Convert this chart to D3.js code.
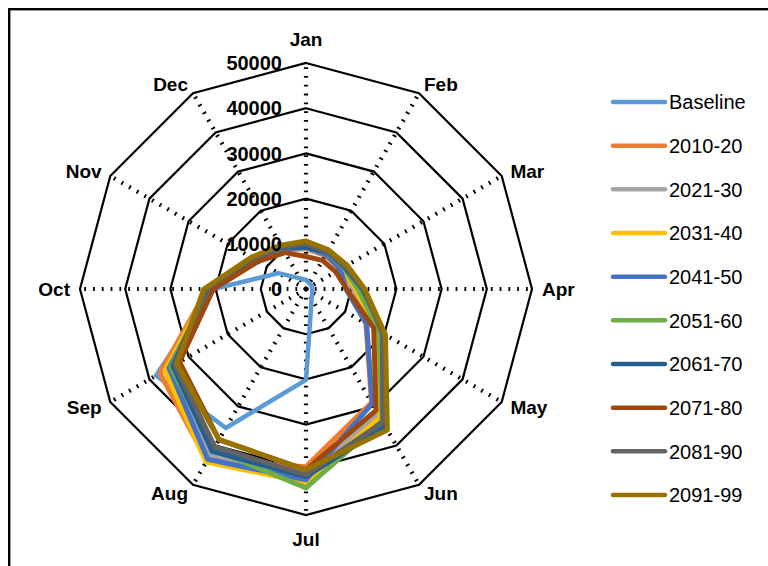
<!DOCTYPE html>
<html>
<head>
<meta charset="utf-8">
<script src="https://cdn.jsdelivr.net/npm/d3@7"></script>
<style>
  html, body { margin: 0; padding: 0; background: #fff; }
  svg { display: block; }
  text { font-family: "Liberation Sans", Arial, sans-serif; fill: #000; }
</style>
</head>
<body>
<svg id="chart" width="768" height="566"></svg>
<script>
// ---- data ----
const months = ["Jan","Feb","Mar","Apr","May","Jun","Jul","Aug","Sep","Oct","Nov","Dec"];
const seriesNames = ["Baseline","2010-20","2021-30","2031-40","2041-50","2051-60","2061-70","2071-80","2081-90","2091-99"];
const seriesColors = ["#5B9BD5","#ED7D31","#A5A5A5","#FFC000","#4472C4","#70AD47","#255E91","#9E480E","#636363","#997300"];
const tickValues = [0, 10000, 20000, 30000, 40000, 50000];

const baseline = [2000, 1500, 1400, 1400, 1600, 2500, 20100, 35500, 38300, 20500, 7000, 2700];
const s2010_20 = [8900, 8600, 8800, 9000, 15300, 29000, 39300, 43800, 37300, 21800, 13000, 10000];
const s2021_30 = [9000, 8900, 9200, 10500, 17500, 32000, 41500, 42500, 35500, 21600, 13200, 10300];
const s2031_40 = [9100, 9000, 9300, 11000, 18000, 32800, 42800, 44200, 36000, 21500, 13300, 10400];
const s2041_50 = [9200, 8800, 8800, 8800, 15500, 29300, 42200, 43500, 35000, 21000, 13000, 10100];
const s2051_60 = [9500, 9300, 9600, 11500, 18600, 33700, 44000, 41000, 34500, 21500, 13300, 10500];
const s2061_70 = [9300, 9400, 9800, 12500, 20000, 35000, 41500, 41500, 34000, 21800, 13500, 10600];
const s2071_80 = [7200, 7300, 7600, 9000, 17300, 31000, 40000, 38500, 32300, 20500, 12200, 9300];
const s2081_90 = [10000, 9500, 10000, 12800, 19500, 34000, 41100, 40300, 33500, 22000, 13700, 10800];
const s2091_99 = [10600, 10000, 10500, 13000, 20300, 36000, 40000, 38500, 33000, 22600, 14000, 11200];

const seriesValues = [baseline, s2010_20, s2021_30, s2031_40, s2041_50, s2051_60, s2061_70, s2071_80, s2081_90, s2091_99];

// ---- layout ----
const svg = d3.select("#chart");
const cx = 306, cy = 289, R = 226;
const rScale = d3.scaleLinear().domain([0, 50000]).range([0, R]);
const angle = d3.scalePoint().domain(months).range([0, 2 * Math.PI]).padding(0);
const ang = m => months.indexOf(m) * 2 * Math.PI / months.length;

// border
svg.append("rect")
  .attr("x", 9.2).attr("y", 9.2).attr("width", 820).attr("height", 620)
  .attr("fill", "none").attr("stroke", "#000").attr("stroke-width", 2.4);

const g = svg.append("g").attr("transform", `translate(${cx},${cy})`);

// spokes (dotted)
g.selectAll("line.spoke").data(months).enter().append("line")
  .attr("class", "spoke")
  .attr("x1", 0).attr("y1", 0)
  .attr("x2", m => R * Math.sin(ang(m)))
  .attr("y2", m => -R * Math.cos(ang(m)))
  .attr("stroke", "#000").attr("stroke-width", 4.2)
  .attr("stroke-dasharray", "1.8,7");

// rings
const ringLine = d3.lineRadial().angle((d, i) => i * 2 * Math.PI / months.length).radius(d => d).curve(d3.curveLinearClosed);
g.selectAll("path.ring").data(tickValues.filter(v => v > 0)).enter().append("path")
  .attr("class", "ring")
  .attr("d", v => ringLine(months.map(() => rScale(v))))
  .attr("fill", "none").attr("stroke", "#000").attr("stroke-width", 2.2);

// series
const seriesLine = d3.lineRadial()
  .angle((d, i) => i * 2 * Math.PI / months.length)
  .radius(d => rScale(d))
  .curve(d3.curveLinearClosed);

g.selectAll("path.series").data(seriesValues).enter().append("path")
  .attr("class", "series")
  .attr("d", d => seriesLine(d))
  .attr("fill", "none")
  .attr("stroke", (d, i) => seriesColors[i])
  .attr("stroke-width", (d, i) => i === 0 ? 4.5 : 5)
  .attr("stroke-linejoin", "round");

// tick labels
g.selectAll("text.tick").data(tickValues).enter().append("text")
  .attr("class", "tick")
  .attr("x", -24)
  .attr("y", v => -rScale(v))
  .attr("dy", "0.36em")
  .attr("text-anchor", "end")
  .attr("font-size", 20).attr("font-weight", "bold")
  .text(v => v);

// month labels
g.selectAll("text.month").data(months).enter().append("text")
  .attr("class", "month")
  .each(function (m) {
    const a = ang(m);
    const s = Math.sin(a), c = Math.cos(a);
    let rr, anchor;
    if (Math.abs(s) < 0.01) { rr = R + 24; anchor = "middle"; }
    else { rr = R + 10; anchor = s > 0 ? "start" : "end"; }
    d3.select(this)
      .attr("x", rr * s)
      .attr("y", -rr * c)
      .attr("dy", "0.36em")
      .attr("text-anchor", anchor);
  })
  .attr("font-size", 19).attr("font-weight", "bold")
  .text(m => m);

// legend
const legend = svg.append("g");
const legY = d3.scalePoint().domain(seriesNames).range([102, 495]);
const items = legend.selectAll("g").data(seriesNames).enter().append("g")
  .attr("transform", d => `translate(0,${legY(d)})`);
items.append("line")
  .attr("x1", 613).attr("x2", 665).attr("y1", 0).attr("y2", 0)
  .attr("stroke", (d, i) => seriesColors[i]).attr("stroke-width", 4.5)
  .attr("stroke-linecap", "round");
items.append("text")
  .attr("x", 669).attr("y", 0).attr("dy", "0.36em")
  .attr("font-size", 20)
  .text(d => d);
</script>
</body>
</html>
